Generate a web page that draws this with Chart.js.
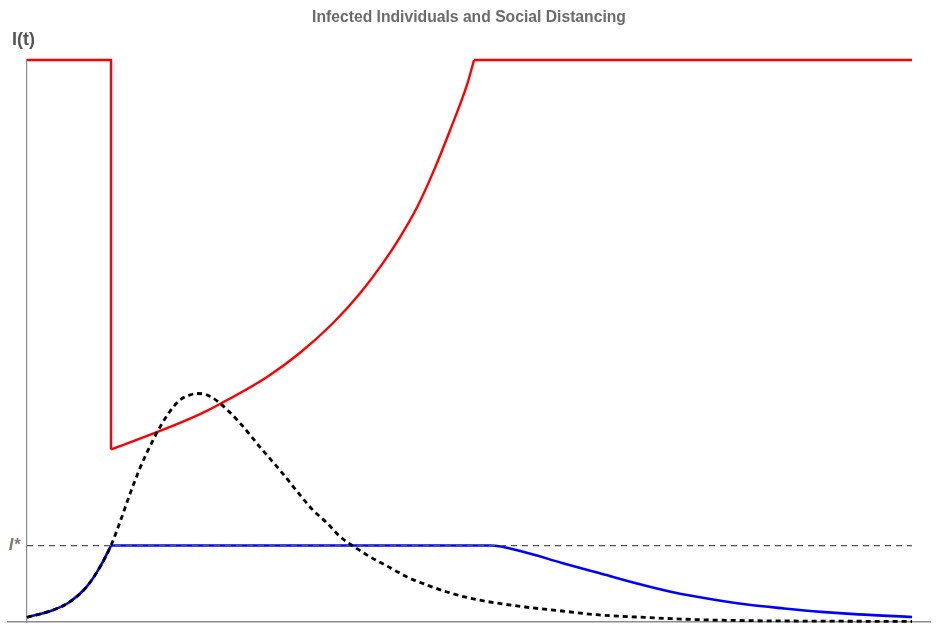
<!DOCTYPE html>
<html>
<head>
<meta charset="utf-8">
<script src="https://cdn.jsdelivr.net/npm/chart.js@4/dist/chart.umd.min.js"></script>
<style>
  html, body { margin: 0; padding: 0; background: #ffffff; }
  #wrap { width: 939px; height: 626px; }
</style>
</head>
<body>
<div id="wrap"><canvas id="chart" width="939" height="626"></canvas></div>
<script>
// Labels
const TITLE = 'Infected Individuals and Social Distancing';
const Y_LABEL = 'I(t)';
const THRESHOLD_LABEL = 'I*';

// Infection threshold I*
const I_STAR = 0.136;

// Time span of the model
const T_START = 0, T_END = 100;

// Social distancing level (red): no restriction (1) before and after the policy window
const OPEN_LEVEL = 1;
const POLICY_START = 9.49;
const POLICY_END = 50.51;
const policyT = [9.49, 15.03, 19.55, 21.81, 27.12, 30.85, 34.58, 37.63, 40.23, 42.15, 44.07, 45.88, 47.80, 49.72, 50.51];
const policyV = [0.307, 0.340, 0.370, 0.388, 0.436, 0.479, 0.532, 0.585, 0.639, 0.685, 0.738, 0.800, 0.875, 0.956, 1];

// Infected, no intervention (black dashed)
const freeT = [0, 2.97, 4.86, 6.75, 8.25, 9.49, 10.51, 11.64, 12.77, 13.9, 15.03, 16.16, 17.29, 18.42, 19.21, 20.34, 21.58, 24.07, 26.33, 28.59, 30.85, 32.32, 33.9, 35.37, 36.84, 38.76, 40.68, 42.94, 45.2, 47.46, 49.72, 51.98, 56.27, 60.45, 64.63, 68.81, 77.18, 100];
const freeV = [0.0084, 0.0214, 0.0361, 0.0628, 0.098, 0.136, 0.178, 0.228, 0.274, 0.313, 0.347, 0.375, 0.395, 0.404, 0.4066, 0.404, 0.392, 0.354, 0.311, 0.270, 0.226, 0.199, 0.176, 0.152, 0.135, 0.116, 0.0996, 0.0801, 0.0658, 0.0534, 0.0436, 0.0365, 0.0267, 0.0196, 0.0125, 0.0089, 0.0036, 0.0009];

// Infected with social distancing (blue): capped at I* while the policy is active
const cappedT = [9.49, 52.32, 56.05, 60.45, 64.63, 68.81, 73.0, 77.18, 81.36, 85.54, 89.72, 93.9, 100];
const cappedV = [0.136, 0.136, 0.125, 0.105, 0.087, 0.069, 0.053, 0.041, 0.031, 0.024, 0.018, 0.0135, 0.009];

const toPoints = (ts, vs) => ts.map((t, i) => ({ x: t, y: vs[i] }));

// Before the cap is hit both infection curves follow the same path
const earlyCount = freeT.indexOf(POLICY_START) + 1;
const earlyPoints = toPoints(freeT.slice(0, earlyCount), freeV.slice(0, earlyCount));

const lineBase = {
  pointRadius: 0,
  pointHoverRadius: 0,
  fill: false,
  clip: false,
  cubicInterpolationMode: 'monotone'
};

const straightRed = {
  borderColor: '#ff0000',
  borderWidth: 2.4,
  cubicInterpolationMode: 'default',
  tension: 0
};

// Axis name and threshold name
const axisLabels = {
  id: 'axisLabels',
  afterDraw(chart) {
    const { ctx, scales } = chart;
    ctx.save();
    ctx.textBaseline = 'middle';
    ctx.font = 'bold 18px "Liberation Sans", Arial, sans-serif';
    ctx.fillStyle = '#555555';
    ctx.textAlign = 'left';
    ctx.fillText(Y_LABEL, 12, 40);
    ctx.font = 'italic bold 17px "Liberation Sans", Arial, sans-serif';
    ctx.fillStyle = '#857a6e';
    ctx.textAlign = 'right';
    ctx.fillText(THRESHOLD_LABEL, scales.x.getPixelForValue(T_START) - 7, scales.y.getPixelForValue(I_STAR));
    ctx.restore();
  }
};

new Chart(document.getElementById('chart'), {
  type: 'line',
  data: {
    datasets: [
      Object.assign({}, lineBase, {
        label: 'No intervention',
        data: toPoints(freeT, freeV),
        borderColor: '#000000',
        borderWidth: 2.8,
        borderDash: [5, 4]
      }),
      Object.assign({}, lineBase, {
        label: THRESHOLD_LABEL,
        data: [{ x: T_START, y: I_STAR }, { x: T_END, y: I_STAR }],
        borderColor: '#555555',
        borderWidth: 1.2,
        borderDash: [6, 5],
        cubicInterpolationMode: 'default',
        tension: 0
      }),
      Object.assign({}, lineBase, {
        label: 'With social distancing',
        data: earlyPoints,
        borderColor: '#0000ff',
        borderWidth: 2.6
      }),
      Object.assign({}, lineBase, {
        label: 'With social distancing (capped)',
        data: toPoints(cappedT, cappedV),
        borderColor: '#0000ff',
        borderWidth: 2.6
      }),
      Object.assign({}, lineBase, {
        label: 'Social distancing',
        data: toPoints(policyT, policyV),
        borderColor: '#ff0000',
        borderWidth: 2.4
      }),
      Object.assign({}, lineBase, straightRed, {
        label: 'No restriction (before)',
        data: [
          { x: T_START, y: OPEN_LEVEL },
          { x: POLICY_START, y: OPEN_LEVEL },
          { x: POLICY_START, y: policyV[0] }
        ]
      }),
      Object.assign({}, lineBase, straightRed, {
        label: 'No restriction (after)',
        data: [
          { x: POLICY_END, y: OPEN_LEVEL },
          { x: T_END, y: OPEN_LEVEL }
        ]
      })
    ]
  },
  options: {
    responsive: false,
    devicePixelRatio: 1,
    animation: false,
    events: [],
    layout: { padding: { left: 8, right: 9, top: 0, bottom: 4 } },
    plugins: {
      legend: { display: false },
      tooltip: { enabled: false },
      title: {
        display: true,
        text: TITLE,
        color: '#6b6b6b',
        font: { family: '"Liberation Sans", Arial, sans-serif', size: 15.7, weight: 'bold', lineHeight: 1.2 },
        padding: { top: 8.4, bottom: 32.76 }
      }
    },
    scales: {
      x: {
        type: 'linear',
        min: -2.147,
        max: 102.03,
        grid: { display: false },
        ticks: { display: false },
        border: { display: true, color: '#8c8c8c', width: 1.5 },
        afterFit: (scale) => { scale.height = 0; }
      },
      y: {
        type: 'linear',
        position: { x: 0 },
        min: 0,
        max: 1,
        grid: { display: false },
        ticks: { display: false },
        border: { display: true, color: '#8c8c8c', width: 1.2 }
      }
    }
  },
  plugins: [axisLabels]
});
</script>
</body>
</html>
